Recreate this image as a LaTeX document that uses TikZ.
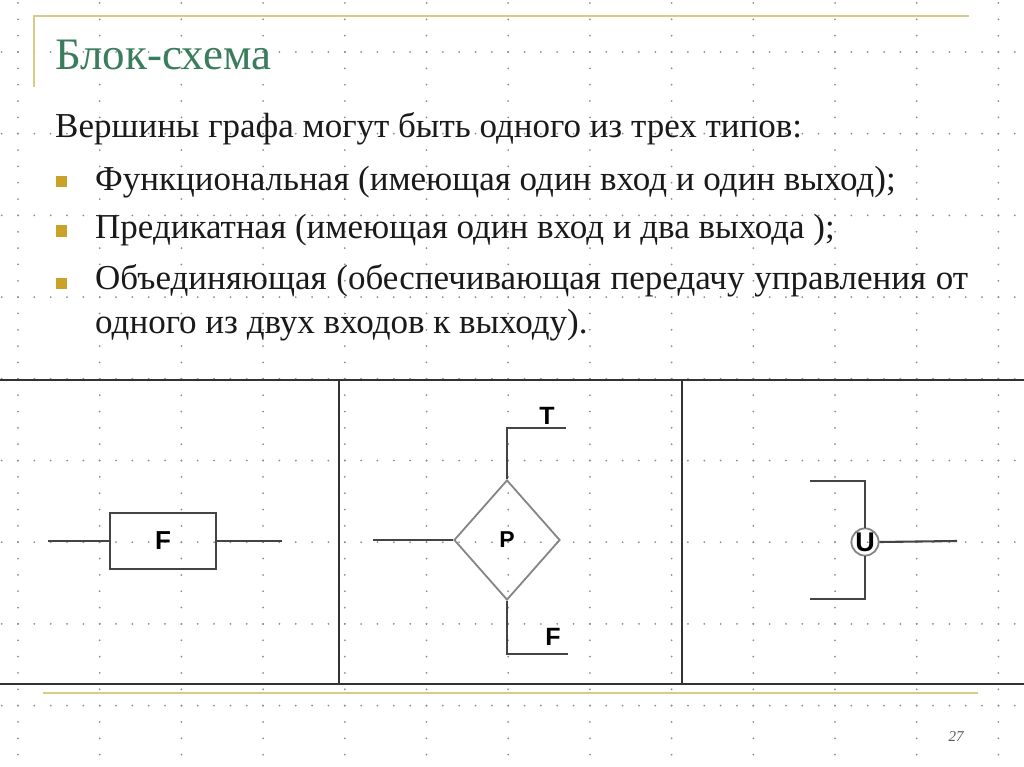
\documentclass[tikz,border=0pt]{standalone}
\usepackage{fontspec}
\setmainfont{Liberation Serif}
\newfontfamily\labfont{Liberation Sans}
\usetikzlibrary{shapes.geometric}
\definecolor{titlegreen}{HTML}{3A7D5C}
\definecolor{goldline}{HTML}{D6CC86}
\definecolor{bulletgold}{HTML}{C9A227}
\definecolor{rulegray}{HTML}{333333}
\definecolor{shapegray}{HTML}{444444}
\definecolor{diagray}{HTML}{858585}
\definecolor{dotgray}{HTML}{8E8E8E}
\definecolor{bodyblack}{HTML}{1A1A1A}
\tikzset{
  griddot/.style={fill=dotgray},
  rulebar/.style={draw=rulegray,line width=1.8pt},
  goldbar/.style={draw=goldline,line width=1.8pt},
  conn/.style={draw=shapegray,line width=2.1pt},
  fbox/.style={draw=shapegray,line width=2.1pt,minimum width=106pt,minimum height=56pt,inner sep=0pt,font=\labfont\bfseries\fontsize{26}{26}\selectfont},
  pbox/.style={diamond,draw=diagray,line width=1.8pt,minimum width=106pt,minimum height=120pt,inner sep=0pt,font=\labfont\bfseries\fontsize{23}{23}\selectfont},
  ubox/.style={circle,draw=diagray,line width=1.8pt,minimum size=27pt,inner sep=0pt,font=\labfont\bfseries\fontsize{27}{27}\selectfont},
  outlabel/.style={inner sep=0pt,font=\labfont\bfseries\fontsize{25}{25}\selectfont},
  bodytext/.style={anchor=base west,inner sep=0pt,text=bodyblack,font=\fontsize{35}{35}\selectfont},
  bulletsq/.style={fill=bulletgold,minimum size=11pt,inner sep=0pt},
}
\begin{document}
\begin{tikzpicture}[x=1pt,y=-1pt]
\useasboundingbox[fill=white] (0,0) rectangle (1024,767);
% grid of dots
\foreach \i in {0,...,12}{
  \foreach \j in {0,...,46}{
    \fill[griddot] ({18+\i*81.7},{3+\j*16.34}) circle (1.0);
  }
}
\foreach \i in {0,...,8}{
  \foreach \j in {0,...,62}{
    \fill[griddot] ({1.66+\j*16.34},{52+\i*81.7}) circle (1.0);
  }
}
% gold frame lines
\draw[goldbar] (34,87) -- (34,16) -- (969,16);
\draw[goldbar] (43,693) -- (978,693);
% title
\node[anchor=base west,inner sep=0pt,text=titlegreen,font=\fontsize{45}{45}\selectfont] (title) at (55,70) {Блок-схема};
% body text
\node[bodytext] (l1) at (55,138) {Вершины графа могут быть одного из трех типов:};
\node[bulletsq] (b1) at (61,182) {};
\node[bodytext] (l2) at (95,191) {Функциональная (имеющая один вход и один выход);};
\node[bulletsq] (b2) at (61,231) {};
\node[bodytext] (l3) at (95,239) {Предикатная (имеющая один вход и два выхода );};
\node[bulletsq] (b3) at (61,283) {};
\node[bodytext] (l4) at (95,289) {\makebox[873pt][s]{Объединяющая (обеспечивающая передачу управления от}};
\node[bodytext] (l5) at (95,333) {одного из двух входов к выходу).};
% table rules
\draw[rulebar] (0,380) -- (1024,380);
\draw[rulebar] (0,684) -- (1024,684);
\draw[rulebar] (339,380) -- (339,684);
\draw[rulebar] (682,380) -- (682,684);
% functional node
\node[fbox] (f) at (163,541) {F};
\coordinate (fin) at (48,541);
\coordinate (fout) at (282,541);
\draw[conn] (fin) -- (f.west);
\draw[conn] (f.east) -- (fout);
% predicate node
\node[pbox] (p) at (507,540) {P};
\coordinate (pin) at (373,540);
\coordinate (tc) at (507,428);
\coordinate (tend) at (566,428);
\coordinate (fc) at (507,654);
\coordinate (fend) at (568,654);
\draw[conn] (pin) -- (p.west);
\draw[conn] (p.north) -- (tc) -- (tend);
\draw[conn] (p.south) -- (fc) -- (fend);
\node[outlabel] (tlab) at (547,416) {T};
\node[outlabel] (flab) at (553,637) {F};
% union node
\node[ubox] (u) at (865,542) {U};
\coordinate (ua) at (810,481);
\coordinate (uac) at (865,481);
\coordinate (ub) at (810,599);
\coordinate (ubc) at (865,599);
\coordinate (uout) at (957,541);
\draw[conn] (ua) -- (uac) -- (u.north);
\draw[conn] (ub) -- (ubc) -- (u.south);
\draw[conn] (u.east) -- (uout);
% page number
\node[inner sep=0pt,text=black!65,font=\itshape\fontsize{15}{15}\selectfont] (pg) at (956,737) {27};
\end{tikzpicture}
\end{document}
